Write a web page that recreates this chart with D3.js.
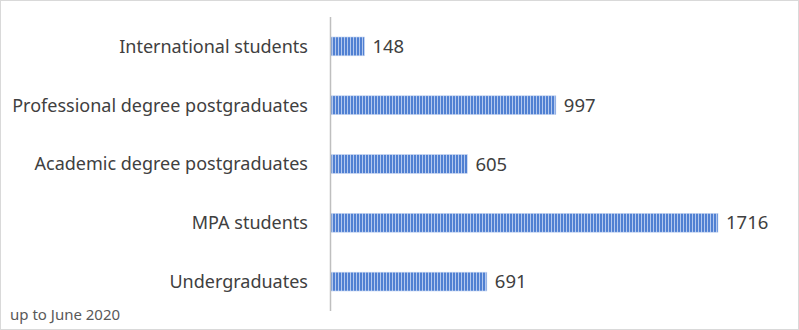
<!DOCTYPE html>
<html>
<head>
<meta charset="utf-8">
<script src="https://cdn.jsdelivr.net/npm/d3@7"></script>
<style>
  body { margin: 0; background: #fff; }
  svg { display: block; }
</style>
</head>
<body>
<script>
// categories top to bottom
var categories = ["International students", "Professional degree postgraduates",
                  "Academic degree postgraduates", "MPA students", "Undergraduates"];
var students = [148, 997, 605, 1716, 691];
var footNote = "up to June 2020";

var W = 799, H = 330;
var svg = d3.select("body").append("svg")
    .attr("width", W)
    .attr("height", H);

// outer frame
svg.append("rect")
    .attr("x", 0.5).attr("y", 0.5)
    .attr("width", W - 1).attr("height", H - 1)
    .style("fill", "#fff")
    .style("stroke", "#d9d9d9");

// narrow vertical stripe fill
var defs = svg.append("defs");
var pat = defs.append("pattern")
    .attr("id", "stripes")
    .attr("patternUnits", "userSpaceOnUse")
    .attr("width", 3).attr("height", 10);
pat.append("rect").attr("width", 3).attr("height", 10).style("fill", "#b3c8ee");
pat.append("rect").attr("width", 2).attr("height", 10).style("fill", "#5080d2");

var x = d3.scaleLinear().domain([0, 1716]).range([331, 718]);
var y = d3.scaleBand().domain(categories).range([17, 311]).paddingInner(0.68).paddingOuter(0.34);

svg.selectAll("rect.bar")
    .data(students)
    .enter().append("rect")
    .attr("class", "bar")
    .attr("x", x(0))
    .attr("y", function(d, i) { return y(categories[i]); })
    .attr("width", function(d) { return x(d) - x(0); })
    .attr("height", y.bandwidth())
    .style("fill", "url(#stripes)")
    .style("stroke", "#c5d5f1")
    .style("stroke-width", 0.6);

// axis line
svg.append("line")
    .attr("x1", 330.5).attr("x2", 330.5)
    .attr("y1", 17).attr("y2", 311)
    .style("stroke", "#bfbfbf")
    .style("stroke-width", 1.5);

// category labels
svg.selectAll("text.cat")
    .data(categories)
    .enter().append("text")
    .attr("class", "cat")
    .attr("x", 308)
    .attr("y", function(d) { return y(d) + y.bandwidth() / 2; })
    .attr("dy", "0.35em")
    .attr("text-anchor", "end")
    .text(function(d) { return d; })
    .style("font-family", "'Noto Sans', sans-serif")
    .style("font-size", "18px")
    .style("fill", "#404040");

// value labels
svg.selectAll("text.val")
    .data(students)
    .enter().append("text")
    .attr("class", "val")
    .attr("x", function(d) { return x(d) + 8; })
    .attr("y", function(d, i) { return y(categories[i]) + y.bandwidth() / 2; })
    .attr("dy", "0.36em")
    .text(function(d) { return d; })
    .style("font-family", "'Noto Sans', sans-serif")
    .style("font-size", "18.5px")
    .style("fill", "#404040");

svg.append("text")
    .attr("x", 10).attr("y", 320)
    .text(footNote)
    .style("font-family", "'Noto Sans', sans-serif")
    .style("font-size", "15px")
    .style("fill", "#595959");
</script>
</body>
</html>
